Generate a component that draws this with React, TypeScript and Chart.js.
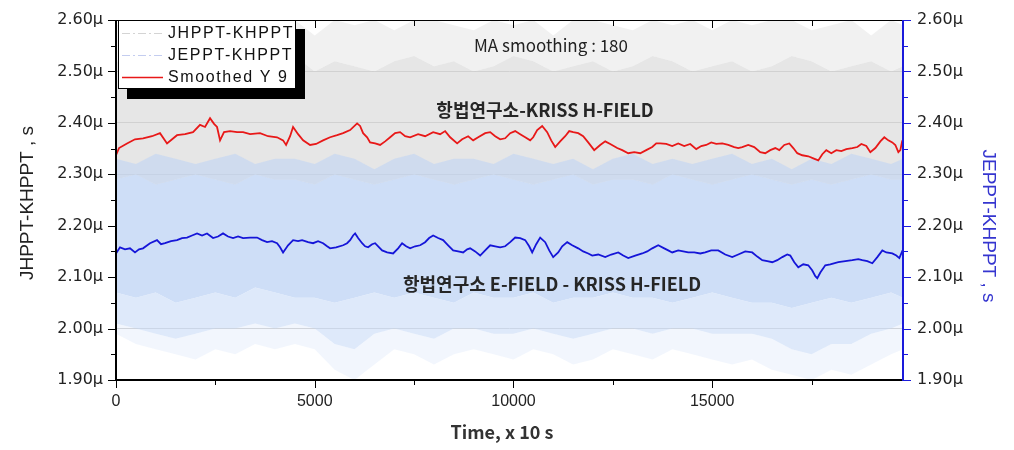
import React, { useEffect, useRef } from 'react';
import { Chart, registerables } from 'chart.js';
Chart.register(...registerables);

// ---- data (values in μs, time in units of 10 s) ----
const rawX = [0, 500, 1000, 1500, 2000, 2500, 3000, 3500, 4000, 4500,
  5000, 5500, 6000, 6500, 7000, 7500, 8000, 8500, 9000, 9500,
  10000, 10500, 11000, 11500, 12000, 12500, 13000, 13500, 14000, 14500,
  15000, 15500, 16000, 16500, 17000, 17500, 18000, 18500, 19000, 19500, 19800];

// JHPPT-KHPPT raw envelope
const grayOuterHi = [2.59, 2.60, 2.58, 2.60, 2.59, 2.60, 2.60, 2.58, 2.59, 2.60,
  2.57, 2.60, 2.59, 2.60, 2.58, 2.60, 2.60, 2.59, 2.58, 2.60,
  2.59, 2.60, 2.57, 2.60, 2.60, 2.59, 2.58, 2.60, 2.59, 2.60,
  2.58, 2.60, 2.59, 2.60, 2.60, 2.58, 2.59, 2.60, 2.57, 2.60, 2.59];
const grayCoreHi = [2.52, 2.51, 2.50, 2.52, 2.53, 2.51, 2.50, 2.52, 2.51, 2.53,
  2.50, 2.52, 2.51, 2.50, 2.52, 2.53, 2.51, 2.52, 2.50, 2.51,
  2.53, 2.52, 2.50, 2.51, 2.52, 2.50, 2.51, 2.53, 2.52, 2.50,
  2.51, 2.52, 2.50, 2.51, 2.53, 2.52, 2.50, 2.51, 2.52, 2.50, 2.51];
const grayCoreLo = [2.23, 2.22, 2.24, 2.23, 2.22, 2.23, 2.24, 2.22, 2.23, 2.23,
  2.22, 2.24, 2.23, 2.22, 2.23, 2.24, 2.23, 2.22, 2.23, 2.24,
  2.23, 2.22, 2.23, 2.24, 2.22, 2.23, 2.23, 2.22, 2.24, 2.23,
  2.22, 2.23, 2.24, 2.23, 2.22, 2.23, 2.22, 2.24, 2.23, 2.22, 2.23];

// JEPPT-KHPPT raw envelope
const blueOuterHi = [2.33, 2.32, 2.34, 2.33, 2.32, 2.33, 2.34, 2.32, 2.33, 2.33,
  2.32, 2.34, 2.33, 2.31, 2.33, 2.34, 2.32, 2.33, 2.33, 2.32,
  2.34, 2.33, 2.32, 2.33, 2.31, 2.33, 2.34, 2.32, 2.33, 2.32,
  2.33, 2.34, 2.32, 2.33, 2.31, 2.33, 2.32, 2.34, 2.33, 2.32, 2.33];
const blueCoreHi = [2.29, 2.30, 2.28, 2.29, 2.30, 2.29, 2.28, 2.30, 2.29, 2.29,
  2.28, 2.30, 2.29, 2.28, 2.29, 2.30, 2.29, 2.28, 2.29, 2.30,
  2.29, 2.28, 2.29, 2.30, 2.28, 2.29, 2.29, 2.28, 2.30, 2.29,
  2.28, 2.29, 2.30, 2.29, 2.28, 2.29, 2.28, 2.29, 2.30, 2.29, 2.29];
const blueCoreLo = [2.07, 2.06, 2.07, 2.05, 2.06, 2.07, 2.06, 2.08, 2.07, 2.06,
  2.06, 2.05, 2.06, 2.07, 2.06, 2.07, 2.06, 2.05, 2.07, 2.06,
  2.06, 2.07, 2.05, 2.06, 2.06, 2.07, 2.06, 2.06, 2.05, 2.06,
  2.07, 2.06, 2.05, 2.05, 2.04, 2.05, 2.06, 2.05, 2.06, 2.07, 2.06];
const blueMidLo = [2.01, 2.00, 1.99, 1.98, 1.99, 2.00, 2.00, 2.01, 2.00, 2.01,
  2.00, 1.97, 1.96, 1.99, 2.00, 1.99, 1.98, 2.00, 2.00, 1.99,
  1.99, 2.00, 1.99, 1.98, 1.99, 2.00, 2.00, 1.99, 2.00, 2.00,
  1.99, 1.99, 1.99, 1.98, 1.96, 1.95, 1.97, 1.97, 1.99, 2.00, 2.01];
const blueOuterLo = [1.99, 1.97, 1.96, 1.95, 1.94, 1.96, 1.95, 1.97, 1.96, 1.97,
  1.96, 1.92, 1.90, 1.93, 1.96, 1.95, 1.93, 1.95, 1.96, 1.95,
  1.94, 1.96, 1.95, 1.93, 1.94, 1.96, 1.95, 1.94, 1.96, 1.95,
  1.94, 1.93, 1.94, 1.92, 1.91, 1.90, 1.92, 1.91, 1.93, 1.95, 1.96];

// Smoothed Y 9 (red, MA 180)
const redX = [0, 76, 277, 478, 680, 906, 1107, 1284, 1535, 1737,
  1938, 2114, 2240, 2366, 2467, 2542, 2618, 2718, 2869, 3046,
  3197, 3373, 3624, 3826, 4052, 4203, 4279, 4380, 4455, 4581,
  4707, 4883, 5034, 5210, 5386, 5562, 5714, 5890, 6066, 6141,
  6217, 6318, 6393, 6519, 6645, 6771, 6897, 7022, 7148, 7274,
  7400, 7601, 7777, 7979, 8155, 8281, 8407, 8583, 8709, 8860,
  8986, 9112, 9288, 9414, 9540, 9665, 9791, 9917, 10043, 10169,
  10295, 10420, 10496, 10597, 10722, 10848, 10949, 11050, 11175, 11301,
  11402, 11503, 11629, 11754, 11880, 12031, 12182, 12308, 12434, 12610,
  12736, 12887, 13038, 13189, 13340, 13491, 13592, 13692, 13843, 13994,
  14145, 14296, 14447, 14598, 14724, 14849, 14975, 15101, 15252, 15403,
  15554, 15655, 15755, 15906, 16057, 16209, 16334, 16461, 16587, 16687,
  16813, 16939, 17040, 17140, 17266, 17418, 17543, 17669, 17770, 17870,
  17996, 18122, 18248, 18374, 18525, 18651, 18752, 18877, 18978, 19104,
  19230, 19330, 19431, 19531, 19607, 19683, 19733, 19783];
const redY = [2.337, 2.351, 2.360, 2.368, 2.370, 2.374, 2.380, 2.360, 2.376, 2.378,
  2.382, 2.396, 2.392, 2.409, 2.398, 2.392, 2.366, 2.382, 2.384, 2.382,
  2.382, 2.378, 2.380, 2.374, 2.372, 2.366, 2.357, 2.374, 2.392, 2.378,
  2.366, 2.357, 2.359, 2.366, 2.372, 2.376, 2.380, 2.386, 2.399, 2.394,
  2.380, 2.372, 2.362, 2.360, 2.357, 2.364, 2.372, 2.380, 2.382, 2.374,
  2.372, 2.378, 2.374, 2.382, 2.378, 2.384, 2.372, 2.360, 2.368, 2.374,
  2.366, 2.372, 2.380, 2.382, 2.374, 2.368, 2.370, 2.380, 2.384, 2.378,
  2.372, 2.366, 2.372, 2.386, 2.394, 2.382, 2.366, 2.353, 2.364, 2.374,
  2.384, 2.382, 2.380, 2.374, 2.362, 2.347, 2.357, 2.364, 2.359, 2.351,
  2.347, 2.341, 2.343, 2.341, 2.347, 2.353, 2.360, 2.360, 2.359, 2.355,
  2.360, 2.355, 2.359, 2.349, 2.355, 2.357, 2.362, 2.359, 2.360, 2.357,
  2.353, 2.351, 2.353, 2.357, 2.353, 2.343, 2.341, 2.347, 2.351, 2.347,
  2.357, 2.360, 2.351, 2.341, 2.337, 2.335, 2.331, 2.327, 2.339, 2.347,
  2.341, 2.347, 2.345, 2.349, 2.351, 2.353, 2.359, 2.355, 2.343, 2.351,
  2.364, 2.372, 2.366, 2.362, 2.357, 2.343, 2.347, 2.366];

// Smoothed JEPPT (blue)
const blueSX = [0, 101, 227, 352, 478, 579, 680, 856, 1032, 1133,
  1233, 1384, 1535, 1661, 1787, 1913, 2039, 2165, 2290, 2442,
  2567, 2693, 2819, 2945, 3071, 3197, 3373, 3549, 3675, 3801,
  3926, 4052, 4128, 4203, 4329, 4455, 4581, 4682, 4833, 4958,
  5084, 5210, 5311, 5386, 5537, 5714, 5814, 5890, 5965, 6016,
  6091, 6192, 6267, 6343, 6443, 6519, 6620, 6695, 6821, 6972,
  7098, 7198, 7299, 7400, 7526, 7652, 7777, 7878, 7979, 8104,
  8230, 8356, 8482, 8608, 8734, 8835, 8910, 9036, 9162, 9288,
  9414, 9540, 9665, 9791, 9917, 10043, 10169, 10295, 10395, 10471,
  10572, 10672, 10798, 10899, 10999, 11125, 11226, 11352, 11477, 11629,
  11754, 11880, 11981, 12132, 12308, 12459, 12636, 12761, 12887, 13063,
  13239, 13365, 13491, 13642, 13793, 13893, 13994, 14145, 14271, 14397,
  14548, 14699, 14824, 14975, 15152, 15328, 15504, 15655, 15831, 16007,
  16133, 16259, 16385, 16511, 16637, 16763, 16888, 16964, 17065, 17166,
  17291, 17417, 17518, 17594, 17644, 17720, 17845, 17971, 18172, 18349,
  18525, 18676, 18776, 18902, 19028, 19154, 19280, 19381, 19531, 19632,
  19708, 19790];
const blueSY = [2.146, 2.158, 2.154, 2.156, 2.148, 2.154, 2.156, 2.166, 2.172, 2.164,
  2.166, 2.170, 2.172, 2.176, 2.177, 2.181, 2.185, 2.181, 2.185, 2.176,
  2.179, 2.185, 2.179, 2.176, 2.179, 2.176, 2.177, 2.177, 2.172, 2.168,
  2.170, 2.166, 2.158, 2.148, 2.162, 2.172, 2.170, 2.172, 2.168, 2.166,
  2.170, 2.166, 2.160, 2.156, 2.158, 2.162, 2.166, 2.172, 2.181, 2.185,
  2.176, 2.166, 2.160, 2.158, 2.164, 2.166, 2.158, 2.152, 2.148, 2.146,
  2.156, 2.166, 2.160, 2.156, 2.160, 2.162, 2.168, 2.176, 2.181, 2.176,
  2.172, 2.162, 2.152, 2.150, 2.148, 2.154, 2.156, 2.150, 2.142, 2.152,
  2.162, 2.160, 2.158, 2.160, 2.168, 2.177, 2.176, 2.172, 2.160, 2.148,
  2.164, 2.177, 2.168, 2.152, 2.139, 2.148, 2.160, 2.168, 2.162, 2.156,
  2.150, 2.146, 2.142, 2.144, 2.139, 2.144, 2.148, 2.142, 2.137, 2.142,
  2.146, 2.150, 2.156, 2.162, 2.156, 2.152, 2.148, 2.152, 2.150, 2.148,
  2.148, 2.146, 2.148, 2.152, 2.152, 2.144, 2.139, 2.144, 2.150, 2.148,
  2.140, 2.133, 2.131, 2.129, 2.133, 2.139, 2.144, 2.142, 2.129, 2.119,
  2.125, 2.123, 2.113, 2.102, 2.098, 2.109, 2.123, 2.125, 2.129, 2.131,
  2.133, 2.135, 2.133, 2.131, 2.127, 2.139, 2.152, 2.148, 2.146, 2.142,
  2.137, 2.152];

const xTickVals = [0, 2500, 5000, 7500, 10000, 12500, 15000, 17500];
const yTickVals = [1.9, 1.95, 2.0, 2.05, 2.1, 2.15, 2.2, 2.25, 2.3, 2.35, 2.4, 2.45, 2.5, 2.55, 2.6];

const legendLabels = ['JHPPT-KHPPT', 'JEPPT-KHPPT', 'Smoothed Y 9'];
const xTitle = 'Time, x 10 s';
const yTitle = 'JHPPT-KHPPT , s';
const y2Title = 'JEPPT-KHPPT , s';
const noteMA = 'MA smoothing : 180';
const noteH = '항법연구소-KRISS H-FIELD';
const noteE = '항법연구소 E-FIELD - KRISS H-FIELD';

const pts = (xs: number[], ys: number[]) => xs.map((x, i) => ({ x, y: ys[i] }));
const isMajorY = (v: number) => Math.abs(v * 10 - Math.round(v * 10)) < 1e-6;
const isMajorX = (v: number) => v % 5000 === 0;
const SANS = '"Liberation Sans", Arial, sans-serif';
const KR = '"Noto Sans CJK KR", "Noto Sans", sans-serif';

const band = (data: number[], fill: any, bg: string, order: number, axis = 'y') => ({
  data: pts(rawX, data),
  fill,
  backgroundColor: bg,
  borderColor: 'transparent',
  borderWidth: 0,
  pointRadius: 0,
  order,
  yAxisID: axis,
});

const decor = {
  id: 'decor',
  afterDraw(chart: any) {
    const { ctx, chartArea: a, scales } = chart;
    ctx.save();
    // ticks
    const xs = scales.x;
    xs.ticks.forEach((t: any) => {
      const px = Math.round(xs.getPixelForValue(t.value)) + 0.5;
      const major = isMajorX(t.value);
      ctx.strokeStyle = '#000';
      ctx.lineWidth = 1;
      ctx.beginPath();
      ctx.moveTo(px, a.bottom);
      ctx.lineTo(px, a.bottom + (major ? 8 : 5));
      ctx.moveTo(px, a.top);
      ctx.lineTo(px, a.top + (major ? 8 : 6));
      ctx.stroke();
    });
    const ys = scales.y;
    ys.ticks.forEach((t: any) => {
      const py = Math.round(ys.getPixelForValue(t.value)) + 0.5;
      const major = isMajorY(t.value);
      ctx.lineWidth = 1;
      ctx.strokeStyle = '#000';
      ctx.beginPath();
      ctx.moveTo(a.left - (major ? 8 : 5), py);
      ctx.lineTo(a.left, py);
      ctx.stroke();
      ctx.strokeStyle = '#1a1adb';
      ctx.beginPath();
      ctx.moveTo(a.right, py);
      ctx.lineTo(a.right + (major ? 8 : 5), py);
      ctx.stroke();
    });
    // borders
    ctx.strokeStyle = '#000';
    ctx.lineWidth = 1;
    ctx.beginPath();
    ctx.moveTo(a.left, a.top + 0.5);
    ctx.lineTo(a.right, a.top + 0.5);
    ctx.stroke();
    ctx.lineWidth = 2;
    ctx.beginPath();
    ctx.moveTo(a.left, a.top);
    ctx.lineTo(a.left, a.bottom);
    ctx.lineTo(a.right, a.bottom);
    ctx.stroke();
    ctx.strokeStyle = '#1a1adb';
    ctx.beginPath();
    ctx.moveTo(a.right, a.top);
    ctx.lineTo(a.right, a.bottom + 1);
    ctx.stroke();

    // axis titles
    ctx.textAlign = 'center';
    ctx.textBaseline = 'middle';
    ctx.fillStyle = '#333';
    ctx.font = `bold 18px ${KR}`;
    ctx.fillText(xTitle, 502, 432);

    ctx.save();
    ctx.translate(28, 203);
    ctx.rotate(-Math.PI / 2);
    ctx.fillStyle = '#222';
    ctx.font = `19px ${SANS}`;
    ctx.fillText(yTitle, 0, 0);
    ctx.restore();

    ctx.save();
    ctx.translate(988, 226);
    ctx.rotate(Math.PI / 2);
    ctx.fillStyle = '#3535cf';
    ctx.font = `19px ${SANS}`;
    ctx.fillText(y2Title, 0, 0);
    ctx.restore();

    // notes
    ctx.fillStyle = '#222';
    ctx.font = `17px ${KR}`;
    ctx.fillText(noteMA, 551, 46);
    ctx.font = `bold 18px ${KR}`;
    ctx.fillStyle = '#262626';
    ctx.fillText(noteH, 545, 110);
    ctx.fillText(noteE, 552, 284);

    // legend
    ctx.fillStyle = '#000';
    ctx.fillRect(127, 29, 178, 70);
    ctx.fillStyle = '#fff';
    ctx.fillRect(118, 20, 178, 69);
    ctx.strokeStyle = '#000';
    ctx.lineWidth = 1;
    ctx.strokeRect(118.5, 20.5, 177, 68);
    const rows = [33, 55, 77];
    const lc = ['#d4d4d4', '#c4cdf0', '#e81818'];
    rows.forEach((ry, i) => {
      ctx.strokeStyle = lc[i];
      ctx.lineWidth = i === 2 ? 1.5 : 1;
      ctx.setLineDash(i === 2 ? [] : [8, 3, 2, 3]);
      ctx.beginPath();
      ctx.moveTo(122, ry + 0.5);
      ctx.lineTo(163, ry + 0.5);
      ctx.stroke();
      ctx.setLineDash([]);
      ctx.fillStyle = '#111';
      ctx.font = `16px ${SANS}`;
      ctx.textAlign = 'left';
      ctx.textBaseline = 'middle';
      (ctx as any).letterSpacing = '1.6px';
      ctx.fillText(legendLabels[i], 168, ry + 1);
      (ctx as any).letterSpacing = '0px';
    });
    ctx.restore();
  },
};

export default function App() {
  const ref = useRef<HTMLCanvasElement>(null);
  useEffect(() => {
    document.body.style.margin = '0';
    const yTicks = (side: 'left' | 'right') => ({
      autoSkip: false,
      padding: side === 'left' ? 5 : 6,
      color: '#222',
      font: { family: '"DejaVu Sans", sans-serif', size: 16 },
      callback: (v: number) => (isMajorY(v) ? `${v.toFixed(2)}μ` : ''),
    });
    const setYTicks = (s: any) => { s.ticks = yTickVals.map((v) => ({ value: v })); };
    const chart = new Chart(ref.current as HTMLCanvasElement, {
      type: 'line',
      data: {
        datasets: [
          band(grayOuterHi, '+1', 'rgba(215,215,215,0.35)', 20),
          band(grayCoreHi, '+1', 'rgba(205,205,205,0.5)', 20),
          band(grayCoreLo, false, 'transparent', 20),
          band(blueOuterHi, '+1', 'rgba(190,212,245,0.55)', 10, 'y2'),
          band(blueCoreHi, '+1', 'rgb(206,222,247)', 10, 'y2'),
          band(blueCoreLo, '+1', 'rgba(195,215,246,0.55)', 10, 'y2'),
          band(blueMidLo, '+1', 'rgba(195,215,246,0.22)', 10, 'y2'),
          band(blueOuterLo, false, 'transparent', 10, 'y2'),
          {
            label: legendLabels[2],
            data: pts(redX, redY),
            borderColor: '#e81818',
            borderWidth: 1.8,
            pointRadius: 0,
            fill: false,
            order: 1,
            yAxisID: 'y',
          },
          {
            label: 'JEPPT smoothed',
            data: pts(blueSX, blueSY),
            borderColor: '#1515d8',
            borderWidth: 1.8,
            pointRadius: 0,
            fill: false,
            order: 0,
            yAxisID: 'y2',
          },
        ],
      },
      options: {
        responsive: false,
        animation: false,
        events: [],
        layout: { padding: { top: 20, left: 0, right: 0, bottom: 0 } },
        plugins: { legend: { display: false }, tooltip: { enabled: false } },
        elements: { line: { tension: 0 } },
        scales: {
          x: {
            type: 'linear',
            position: 'bottom',
            min: 0,
            max: 19800,
            afterBuildTicks: (s: any) => { s.ticks = xTickVals.map((v) => ({ value: v })); },
            afterFit: (s: any) => { s.height = 70; },
            ticks: {
              autoSkip: false,
              maxRotation: 0,
              minRotation: 0,
              padding: 4,
              color: '#222',
              font: { family: SANS, size: 16 },
              callback: (v: number) => (isMajorX(v) ? String(v) : ''),
            },
            grid: { drawOnChartArea: false, tickLength: 8, tickColor: 'transparent' },
            border: { display: false },
          },
          y: {
            position: 'left',
            min: 1.9,
            max: 2.6,
            afterBuildTicks: setYTicks,
            afterFit: (s: any) => { s.width = 116; },
            ticks: yTicks('left') as any,
            grid: {
              color: (c: any) => (c.tick && isMajorY(c.tick.value) ? '#d4d4d4' : 'transparent'),
              tickLength: 8,
              tickColor: 'transparent',
            },
            border: { display: false },
          },
          y2: {
            position: 'right',
            min: 1.9,
            max: 2.6,
            afterBuildTicks: setYTicks,
            afterFit: (s: any) => { s.width = 111; },
            ticks: yTicks('right') as any,
            grid: { drawOnChartArea: false, tickLength: 8, tickColor: 'transparent' },
            border: { display: false },
          },
        },
      },
      plugins: [decor],
    } as any);
    return () => chart.destroy();
  }, []);
  return (
    <div style={{ position: 'fixed', left: 0, top: 0, width: 1014, height: 450 }}>
      <canvas ref={ref} width={1014} height={450} style={{ display: 'block' }} />
    </div>
  );
}
